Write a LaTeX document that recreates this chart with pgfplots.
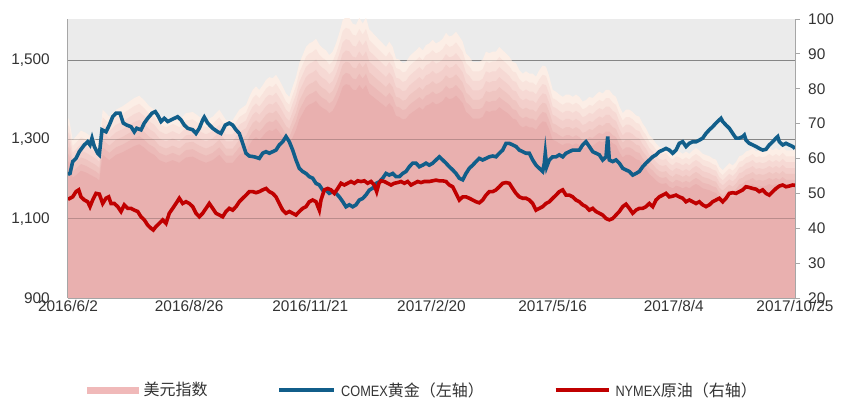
\documentclass[border=0pt]{standalone}
\usepackage{fontspec}
\setmainfont{Liberation Sans}
\newfontfamily\cjk{Noto Sans CJK SC}
\usepackage{graphicx}
\usepackage{pgfplots}
\pgfplotsset{compat=1.18}
\usepackage{pgfplotstable}
\definecolor{bggray}{HTML}{EBEBEB}
\definecolor{axisgray}{HTML}{A6A6A6}
\definecolor{gridgray}{HTML}{A8A8A8}
\definecolor{tickc}{HTML}{333333}
\definecolor{goldc}{HTML}{115E8A}
\definecolor{oilc}{HTML}{C00000}
\definecolor{ua}{HTML}{FCEEE6}
\definecolor{ub}{HTML}{F9E4DD}
\definecolor{uc}{HTML}{F6D9D4}
\definecolor{ud}{HTML}{F3CFCB}
\definecolor{ue}{HTML}{EFC5C1}
\definecolor{uf}{HTML}{ECBAB8}
\definecolor{ug}{HTML}{E9B0AF}
\definecolor{legpink}{HTML}{F0B9B9}

\pgfplotstableread{
x g
0 1212
2 1214
4.7 1244
8 1252
11.3 1269
16.3 1286
19.7 1294
22 1286
24 1303
26.3 1282
29.7 1265
31.3 1261
34 1324
38 1319
41.3 1336
44.7 1357
48 1366
52 1366
55.3 1341
58.7 1336
63 1332
66.3 1319
68.7 1328
73 1324
76.3 1341
79.7 1353
84 1366
87.3 1370
89.7 1361
93 1345
96.3 1353
99.7 1345
103 1349
106.3 1353
109.7 1357
113 1349
116.3 1336
119.7 1328
124.7 1324
128 1315
131.3 1328
134.7 1349
136.3 1356
139.7 1341
144.7 1328
149.7 1319
153 1315
157.3 1336
161.3 1341
164.7 1336
168 1324
171.3 1315
174.7 1290
178 1265
181.3 1258
186.3 1256
191.3 1252
194.7 1265
198 1269
201.3 1265
204.7 1269
208 1273
211.3 1286
214.7 1294
218 1307
221.3 1294
224.7 1273
228 1248
231.3 1227
234.7 1219
238 1214
241.3 1206
244.7 1202
248 1189
251.3 1185
254.7 1172
258 1172
261.3 1164
264.7 1168
268 1164
271.3 1155
274.7 1143
278 1130
281.3 1135
284.7 1130
288 1135
291.3 1147
294.7 1151
298 1160
301.3 1172
304.7 1177
308 1189
311.3 1193
314.7 1202
318 1214
321.3 1210
324.7 1214
328 1206
331.3 1206
334.7 1214
338 1219
341.3 1231
344.7 1240
348 1240
351.3 1231
354.7 1235
358 1240
361.3 1235
364.7 1240
368 1248
371.3 1256
374.7 1248
378 1240
381.3 1231
384.7 1223
388 1214
391.3 1202
394.7 1198
398 1214
401.3 1227
404.7 1235
408 1244
411.3 1252
414.7 1248
418 1252
421.3 1256
424.7 1258
428 1256
431.3 1265
434.7 1273
438 1290
441.3 1290
444.7 1286
448 1282
451.3 1273
454.7 1269
458 1265
461.3 1265
464.7 1248
468 1235
471.3 1227
474.7 1219
476.3 1240
477.3 1265
478.7 1231
481.3 1248
484.7 1256
488 1256
491.3 1261
494.7 1256
498 1265
501.3 1269
504.7 1273
508 1273
511.3 1273
514.7 1286
518 1294
521.3 1282
524.7 1269
528 1265
531.3 1261
534.7 1248
538 1256
539.7 1307
541.3 1248
544.7 1244
548 1248
551.3 1240
554.7 1227
558 1223
561.3 1219
564.7 1210
568 1214
571.3 1219
574.7 1231
578 1240
581.3 1248
584.7 1256
588 1261
591.3 1269
594.7 1273
598 1277
601.3 1273
604.7 1265
608 1273
611.3 1290
614.7 1294
618 1282
621.3 1290
624.7 1294
628 1294
631.3 1298
634.7 1303
638 1315
641.3 1324
644.7 1332
648 1341
651.3 1349
653 1353
654.7 1345
658 1336
661.3 1328
664.7 1315
668 1303
671.3 1303
674.7 1307
676.3 1311
678 1298
681.3 1290
684.7 1286
688 1282
691.3 1277
694.7 1273
698 1275
701.3 1286
704.7 1294
708 1303
709.7 1307
711.3 1294
714.7 1286
718 1290
721.3 1286
724.7 1282
727 1277
}\gold

\pgfplotstableread{
x o
0 48.3
2 48.6
4.7 49.0
8 50.5
10.7 51.0
13 49.0
16.3 48.1
19.7 47.6
22 46.2
24.7 48.1
28 50.0
31.3 49.8
34.7 47.1
38 48.6
40.7 49.0
43 47.1
46.3 47.1
49.7 46.2
53 44.8
56.3 46.7
59.7 45.7
63 45.7
66.3 45.2
69.7 44.8
73 43.3
76.3 42.4
79.7 40.9
83 40.0
85.3 39.5
88 40.5
91.3 41.4
94.7 42.4
98 41.4
101.3 44.3
104.7 45.7
108 47.1
111.3 48.6
114.7 47.1
118 47.6
121.3 47.1
124.7 46.2
128 44.3
131.3 43.3
134.7 44.3
138 45.7
141.3 47.1
144.7 45.7
148 44.3
151.3 43.8
154.7 43.3
158 44.8
161.3 45.7
164.7 45.2
168 46.2
171.3 47.6
174.7 48.6
178 49.5
181.3 50.5
184.7 50.5
188 50.2
191.3 50.5
194.7 51.0
198 51.4
201.3 50.5
204.7 50.0
208 49.0
211.3 47.1
214.7 45.2
218 44.3
221.3 44.8
224.7 44.3
228 43.8
231.3 44.8
234.7 45.7
238 46.2
241.3 47.6
244.7 48.1
248 47.6
251.3 45.2
253 48.1
256.3 51.0
259.7 51.4
263 51.0
266.3 50.0
269.7 51.4
273 52.9
276.3 52.4
279.7 52.9
283 53.4
286.3 52.9
289.7 53.6
293 53.4
296.3 53.6
299.7 52.9
303 53.4
306.3 52.4
308.7 50.5
311 52.9
313 53.6
316.3 53.4
319.7 52.9
323 52.4
326.3 52.9
329.7 53.1
333 53.4
336.3 52.9
339.7 53.4
343 52.4
346.3 52.9
349.7 53.4
353 53.1
356.3 53.4
361.3 53.4
364.7 53.6
368 53.8
371.3 53.6
374.7 53.6
378 53.4
381.3 52.4
384.7 51.9
388 50.0
391.3 48.1
394.7 49.0
398 49.0
401.3 48.6
404.7 48.1
408 47.6
411.3 47.3
414.7 48.1
418 49.5
421.3 50.5
424.7 50.5
428 51.0
431.3 51.9
434.7 52.9
438 53.1
441.3 52.9
444.7 51.4
448 50.0
451.3 49.0
454.7 48.6
458 48.6
461.3 48.1
464.7 47.1
468 45.2
471.3 45.7
474.7 46.2
478 47.1
481.3 47.6
484.7 48.6
488 49.5
491.3 50.5
494.7 51.0
498 49.5
501.3 49.5
504.7 49.0
508 48.1
511.3 47.6
514.7 46.7
518 46.2
521.3 45.2
524.7 45.7
528 44.8
531.3 44.3
534.7 43.8
538 42.8
541.3 42.4
544.7 42.8
548 43.8
551.3 44.8
554.7 46.2
558 46.9
561.3 45.7
564.7 44.3
568 45.2
571.3 45.7
574.7 45.7
578 46.2
581.3 47.1
584.7 46.2
588 48.1
591.3 49.0
594.7 49.5
598 50.0
601.3 49.0
604.7 49.2
608 49.5
611.3 49.0
614.7 48.6
618 47.6
621.3 48.1
624.7 47.6
628 47.1
631.3 47.6
634.7 46.7
638 46.2
641.3 46.7
644.7 47.6
648 48.1
651.3 48.6
654.7 47.6
658 48.6
661.3 50.0
664.7 50.2
668 50.0
671.3 50.5
674.7 51.0
678 51.9
681.3 51.7
684.7 51.4
688 51.2
691.3 50.5
694.7 51.0
698 50.0
701.3 49.5
704.7 50.5
708 51.4
711.3 52.1
714.7 52.4
718 51.9
721.3 52.1
724.7 52.4
727 52.3
}\oil

\pgfplotstableread{
x u
0 95.5
1.3 95.3
4.7 93.6
8 93.9
13 94.4
18 94.2
23 93.9
28 93.6
31.3 93.3
34.7 96.2
41.3 95.6
48 96.2
54.7 96.5
61.3 96.9
66.3 97.2
71.3 97.4
76.3 97.0
81.3 96.5
86.3 96.2
91.3 95.6
98 95.3
104.7 95.6
111.3 95.3
118 95.9
124.7 96.0
131.3 95.6
138 95.3
144.7 95.6
151.3 96.2
158 95.3
164.7 95.3
171.3 96.2
178 96.6
181.3 97.3
184.7 97.9
188 98.2
191.3 97.9
194.7 98.3
198 98.75
201.3 99.0
204.7 98.9
208 99.2
211.3 98.75
214.7 98.2
218 97.6
221.3 97.3
224.7 98.2
228 99.0
231.3 100.2
234.7 100.9
238 101.6
241.3 101.9
244.7 102.05
248 102.3
251.3 101.8
254.7 101.5
258 101.3
261.3 100.9
264.7 101.2
268 101.9
271.3 102.8
274.7 103.9
278 104.2
281.3 104.1
284.7 103.6
288 103.5
291.3 104.1
294.7 103.6
298 104.1
301.3 103.1
304.7 102.8
308 102.5
311.3 102.2
314.7 101.9
318 101.6
321.3 102.05
324.7 101.6
328 100.6
331.3 100.5
334.7 100.2
338 100.3
341.3 100.76
344.7 101.05
348 101.3
351.3 101.6
354.7 101.3
358 101.76
361.3 101.9
364.7 102.2
368 101.9
371.3 102.05
374.7 102.3
378 102.8
381.3 102.5
384.7 102.6
388 102.9
391.3 102.5
394.7 102.05
398 101.05
401.3 100.76
404.7 100.3
408 100.3
411.3 100.3
414.7 100.5
418 101.2
421.3 101.05
424.7 101.2
428 101.2
431.3 101.6
434.7 101.3
438 101.05
441.3 100.76
444.7 100.3
448 100.2
451.3 99.6
454.7 99.3
458 99.5
461.3 99.3
464.7 99.3
468 99.04
471.3 99.6
474.7 100.0
478 99.9
481.3 99.04
484.7 97.9
488 97.75
491.3 97.5
494.7 97.3
498 97.5
501.3 97.5
504.7 97.3
508 97.5
511.3 97.3
514.7 96.9
518 97.03
521.3 97.3
524.7 97.2
528 97.5
531.3 97.75
534.7 97.6
538 97.9
541.3 97.9
544.7 97.5
548 97.3
551.3 96.5
554.7 95.9
558 96.2
561.3 96.2
564.7 96.0
568 95.7
571.3 95.6
574.7 95.0
578 94.6
581.3 94.0
584.7 93.7
588 93.3
591.3 93.0
594.7 92.9
598 93.0
601.3 92.6
604.7 92.4
608 92.7
611.3 92.6
614.7 92.4
618 92.6
621.3 92.4
624.7 92.7
628 92.9
631.3 92.7
634.7 92.4
638 92.3
641.3 92.2
644.7 92.0
648 91.9
651.3 91.3
654.7 91.0
658 91.3
661.3 91.6
664.7 91.4
668 91.7
671.3 92.2
674.7 92.3
678 92.6
681.3 92.7
684.7 92.9
688 92.6
691.3 92.7
694.7 92.6
698 92.7
701.3 92.9
704.7 92.7
708 92.9
711.3 92.7
714.7 93.0
718 92.7
721.3 92.7
727 92.7
}\usd

\newcommand{\lat}[1]{\scalebox{0.85}[1]{\fontsize{15bp}{18bp}\selectfont #1}}
\newcommand{\han}[1]{{\cjk\fontsize{16bp}{18bp}\selectfont #1}}

\begin{document}
\begin{tikzpicture}
\useasboundingbox (-68bp,-103bp) rectangle (777bp,298bp);
\pgfplotsset{base/.style={scale only axis, width=727bp, height=279bp,
  at={(0,0)}, anchor=south west, xmin=0, xmax=727,
  /pgf/number format/assume math mode=true,
  tick label style={font=\fontsize{15.4bp}{18bp}\selectfont, text=tickc}}}

% dollar index area (hidden scale 80--104); gridlines at the left-axis 1,100/1,300/1,500 levels lie beneath it
\begin{axis}[base, ymin=80, ymax=104, axis line style={draw=none},
  xtick=\empty, ytick={86.823,93.646,100.469}, yticklabels={},
  major tick length=0pt, ymajorgrids,
  grid style={draw=gridgray, line width=1bp},
  axis background/.style={fill=bggray}]
\addplot[draw=none, fill=ua] table[x=x, y=u]{\usd} \closedcycle;
\addplot[draw=none, fill=ub] table[x=x, y expr={80+0.96*(\thisrow{u}-80)}]{\usd} \closedcycle;
\addplot[draw=none, fill=uc] table[x=x, y expr={80+0.92*(\thisrow{u}-80)}]{\usd} \closedcycle;
\addplot[draw=none, fill=ud] table[x=x, y expr={80+0.88*(\thisrow{u}-80)}]{\usd} \closedcycle;
\addplot[draw=none, fill=ue] table[x=x, y expr={80+0.84*(\thisrow{u}-80)}]{\usd} \closedcycle;
\addplot[draw=none, fill=uf] table[x=x, y expr={80+0.80*(\thisrow{u}-80)}]{\usd} \closedcycle;
\addplot[draw=none, fill=ug] table[x=x, y expr={80+0.76*(\thisrow{u}-80)}]{\usd} \closedcycle;
\end{axis}

% gold, left axis
\begin{axis}[base, ymin=900, ymax=1603.5,
  axis x line*=bottom, axis y line*=left,
  axis line style={draw=axisgray, line width=1bp},
  ytick={900,1100,1300,1500}, ymajorgrids,
  grid style={draw=black, draw opacity=0.2, line width=1bp},
  xtick={0,121.1667,242.3333,363.5,484.6667,605.8333,727},
  xticklabels={2016/6/2,2016/8/26,2016/11/21,2017/2/20,2017/5/16,2017/8/4,2017/10/25},
  major tick length=0pt,
  yticklabel style={anchor=east, inner sep=0pt, xshift=-18bp},
  xticklabel style={anchor=north, inner sep=0pt, yshift=-2bp}]
\addplot[goldc, line width=3.6bp] table[x=x, y=g]{\gold};
\end{axis}

% oil, right axis
\begin{axis}[base, ymin=20, ymax=100,
  axis x line=none, axis y line*=right,
  axis line style={draw=axisgray, line width=1bp},
  ytick={20,30,40,50,60,70,80,90,100},
  tick align=outside, major tick length=5bp,
  tick style={draw=axisgray, line width=1bp},
  yticklabel style={anchor=west, inner sep=0pt, xshift=8bp},
  legend columns=3,
  legend style={at={(axis description cs:0.0261,-0.3297)}, anchor=west,
    draw=none, fill=none, inner sep=0pt, text=tickc,
    font=\fontsize{15bp}{18bp}\selectfont,
    nodes={inner sep=0pt},
    /tikz/every odd column/.style={column sep=5bp},
    /tikz/every even column/.style={column sep=70bp}}]
\addlegendimage{legend image code/.code={\fill[legpink] (0bp,-3bp) rectangle (51bp,3bp);}}
\addlegendentry{\han{美元指数}}
\addlegendimage{legend image code/.code={\draw[goldc, line width=3.6bp] (0bp,0bp) -- (55bp,0bp);}}
\addlegendentry{\lat{COMEX}\han{黄金（左轴）}}
\addplot[oilc, line width=3.6bp, legend image code/.code={\draw[oilc, line width=3.6bp] (0bp,0bp) -- (53bp,0bp);}] table[x=x, y=o]{\oil};
\addlegendentry{\lat{NYMEX}\han{原油（右轴）}}
\end{axis}
\end{tikzpicture}
\end{document}
